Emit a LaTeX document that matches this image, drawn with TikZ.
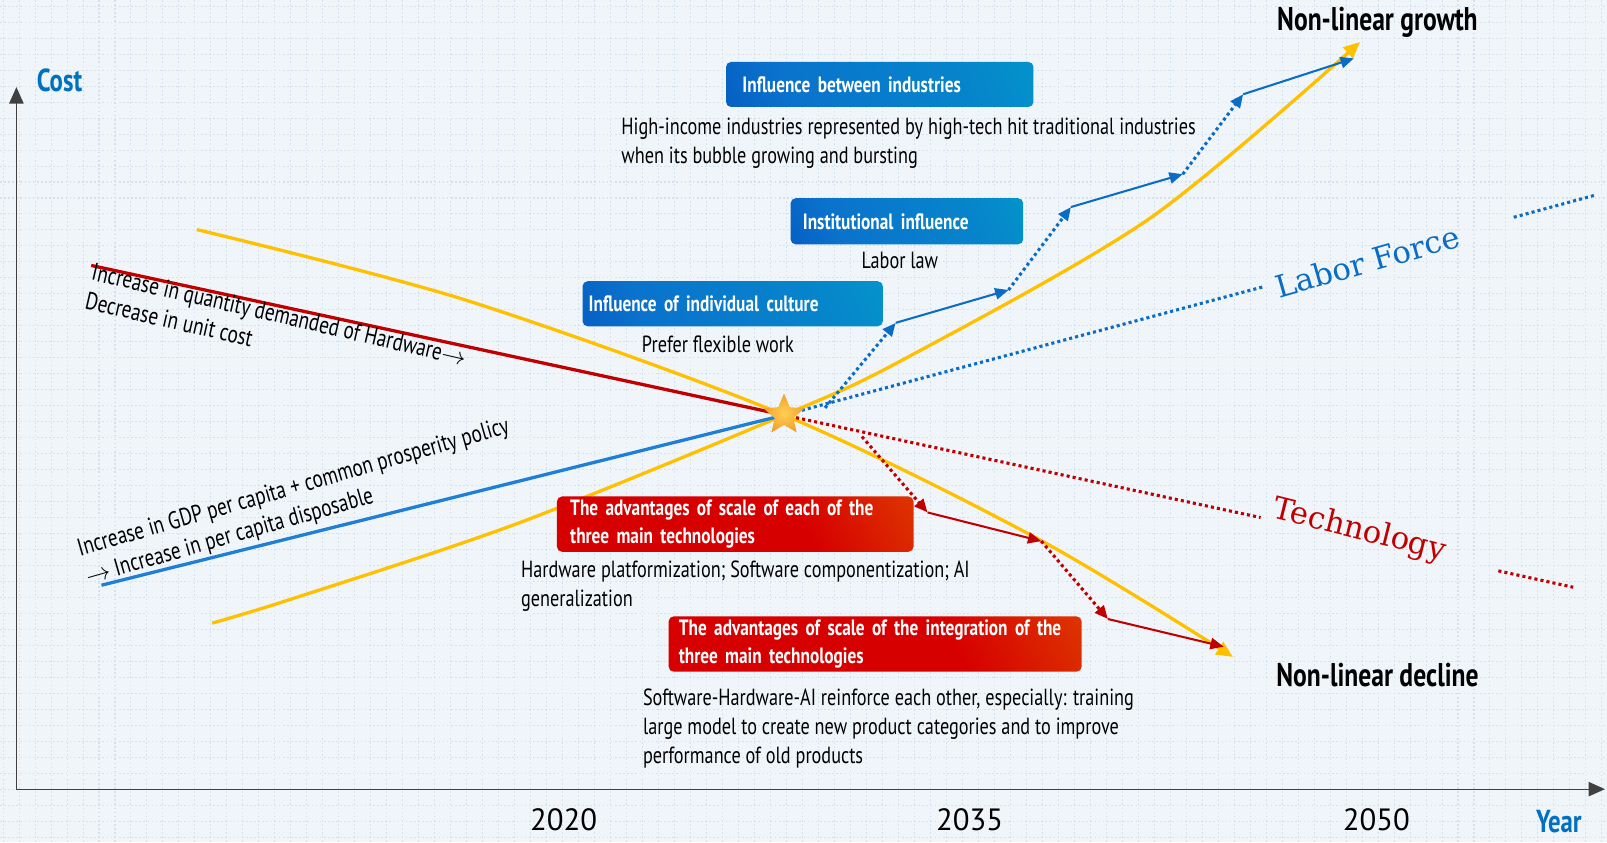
\documentclass[tikz,border=0pt]{standalone}
\usepackage{fontspec}
\setmainfont{PT Sans}[FakeStretch=0.78]
\newfontfamily\yearfont{PT Sans}
\newfontfamily\trendfont{DejaVu Serif}
\usepackage{xcolor}
\usetikzlibrary{arrows.meta,shapes.geometric}

\definecolor{bgpaper}{HTML}{F0F5FA}
\definecolor{gridblue}{HTML}{D6E1EE}
\definecolor{costred}{HTML}{C00000}
\definecolor{incomeblue}{HTML}{1F7FD6}
\definecolor{laborblue}{HTML}{0A6CC4}
\definecolor{curveyellow}{HTML}{FFC000}
\definecolor{axisblue}{HTML}{0070C0}
\definecolor{boxdark}{HTML}{0048B8}
\definecolor{boxmid}{HTML}{0A72CC}
\definecolor{boxteal}{HTML}{00A4CA}
\definecolor{boxred}{HTML}{D60000}
\definecolor{boxorange}{HTML}{E25A00}
\definecolor{starcore}{HTML}{FFCF55}
\definecolor{staredge}{HTML}{F4A028}

\pgfdeclarehorizontalshading{bluefade}{100bp}{color(0bp)=(boxdark); color(30bp)=(boxmid); color(70bp)=(boxmid!60!boxteal); color(100bp)=(boxteal)}
\pgfdeclarehorizontalshading{redfade}{100bp}{color(0bp)=(boxred); color(62bp)=(boxred); color(100bp)=(boxorange)}

\tikzset{
  gridline/.style={draw=gridblue, line width=0.5pt, dash pattern=on 0.8pt off 1.2pt},
  axisline/.style={draw=black!75, line width=0.6pt, -{Triangle[length=8pt,width=7pt]}},
  trendline/.style={line width=1.6pt},
  curve/.style={draw=curveyellow, line width=1.6pt, -{Triangle[length=8pt,width=7pt]}},
  dotline/.style={line width=1.5pt, dash pattern=on 1.5pt off 1.5pt},
  stepsolid/.style={line width=1pt, -{Triangle[length=6.5pt,width=5.5pt]}},
  stepdot/.style={line width=1.5pt, dash pattern=on 1.5pt off 1.5pt, -{Triangle[length=6.5pt,width=5.5pt]}},
  bluebox/.style={anchor=north west, rounded corners=2.5pt, shading=bluefade, shading angle=25,
    text=white, font=\bfseries\fontsize{10.8}{13.5}\selectfont, align=left, inner ysep=1pt},
  redbox/.style={anchor=north west, rounded corners=2.5pt, shading=redfade, shading angle=30,
    text=white, font=\bfseries\fontsize{10.8}{13.5}\selectfont, align=left, inner ysep=0.5pt},
  note/.style={font=\fontsize{11.4}{14}\selectfont, align=left, inner sep=0pt},
  slanted/.style={font=\fontsize{12}{14.4}\selectfont, align=left, inner sep=0pt},
  bigtitle/.style={font=\bfseries\fontsize{16}{18}\selectfont, inner sep=0pt},
  axistitle/.style={text=axisblue, font=\bfseries\fontsize{15.5}{18}\selectfont, inner sep=0pt},
  yearlabel/.style={font=\yearfont\fontsize{15}{16}\selectfont, inner sep=0pt},
  trendlabel/.style={font=\trendfont\fontsize{15}{16}\selectfont, inner sep=0pt},
}

\begin{document}
\begin{tikzpicture}[x=0.5pt, y=-0.5pt]
                \fill[bgpaper] (0,0) rectangle (1568,822);
                \useasboundingbox (0,0) rectangle (1568,822);
                \foreach \gx in {3,18.6,...,1568}
                    \draw[gridline] (\gx,0) -- (\gx,822);
                \foreach \gy in {6,21.6,...,822}
                    \draw[gridline] (0,\gy) -- (1568,\gy);

                % axes
                \coordinate (origin) at (16,770);
                \coordinate (ytip) at (16,85);
                \coordinate (xtip) at (1566,770);
                \draw[axisline] (origin) -- (ytip);
                \draw[axisline] (origin) -- (xtip);
                \node[axistitle] (cost) at (58,78) {Cost};
                \node[axistitle] (year) at (1521,802) {Year};
                \node[yearlabel] (y2020) at (550,800) {2020};
                \node[yearlabel] (y2035) at (946,800) {2035};
                \node[yearlabel] (y2050) at (1343,800) {2050};

                % the two yellow curves
                \draw[curve] plot[smooth] coordinates {(192,224) (455,293) (765,405) (1015,527) (1203,641)};
                \draw[curve] plot[smooth] coordinates {(207,608) (286,584) (507,510) (765,405) (881,351) (1122,213) (1327,41)};

                % lines into the star
                \coordinate (meet) at (765,405);
                \coordinate (hwstart) at (89,259);
                \coordinate (gdpstart) at (99,571);
                \draw[trendline, draw=costred] (hwstart) -- (meet);
                \draw[trendline, draw=incomeblue] (gdpstart) -- (meet);

                \coordinate (lf1) at (1232,280);
                \coordinate (lf2) at (1477,212);
                \coordinate (lf3) at (1558,190);
                \draw[dotline, draw=laborblue] (meet) -- (lf1);
                \draw[dotline, draw=laborblue] (lf2) -- (lf3);
                \node[trendlabel, text=laborblue, rotate=16] (labor) at (1334,255) {Labor Force};

                \coordinate (tc1) at (1230,505);
                \coordinate (tc2) at (1462,557);
                \coordinate (tc3) at (1535,573);
                \draw[dotline, draw=costred] (meet) -- (tc1);
                \draw[dotline, draw=costred] (tc2) -- (tc3);
                \node[trendlabel, text=costred, rotate=-14] (tech) at (1326,518) {Technology};

                % blue steps
                \coordinate (b0) at (805,398);
                \coordinate (b1) at (874,315);
                \coordinate (b2) at (984,283);
                \coordinate (b3) at (1045,202);
                \coordinate (b4) at (1154,170);
                \coordinate (b5) at (1213,92);
                \coordinate (b6) at (1321,57);
                \draw[stepdot, draw=laborblue] (b0) -- (b1);
                \draw[stepsolid, draw=laborblue] (b1) -- (b2);
                \draw[stepdot, draw=laborblue] (b2) -- (b3);
                \draw[stepsolid, draw=laborblue] (b3) -- (b4);
                \draw[stepdot, draw=laborblue] (b4) -- (b5);
                \draw[stepsolid, draw=laborblue] (b5) -- (b6);

                % red steps
                \coordinate (r0) at (841,426);
                \coordinate (r1) at (905,500);
                \coordinate (r2) at (1016,528);
                \coordinate (r3) at (1081,604);
                \coordinate (r4) at (1194,631);
                \draw[stepdot, draw=costred] (r0) -- (r1);
                \draw[stepsolid, draw=costred] (r1) -- (r2);
                \draw[stepdot, draw=costred] (r2) -- (r3);
                \draw[stepsolid, draw=costred] (r3) -- (r4);

                \node[star, star points=5, star point ratio=2.2, minimum size=21pt, inner sep=0pt,
                      inner color=starcore, outer color=staredge] (star) at (meet) {};

                % rotated texts along the two lines
                \node[slanted, rotate=-13, anchor=north west] (hwtext) at (92,256)
                    {Increase in quantity demanded of Hardware$\rightarrow$\\Decrease in unit cost};
                \node[slanted, rotate=16, anchor=north west] (gdptext) at (73,526)
                    {Increase in GDP per capita + common prosperity policy\\$\rightarrow$ Increase in per capita disposable};

                % boxes and notes
                \node[bluebox, minimum width=150pt, minimum height=22pt, inner xsep=8pt, text width=134pt] (industry) at (708,60)
                    {Influence between industries};
                \node[note, anchor=north west] (industrynote) at (606,115)
                    {High-income industries represented by high-tech hit traditional industries\\when its bubble growing and bursting};
                \node[bluebox, minimum width=113.5pt, minimum height=22.5pt, inner xsep=6pt, text width=101.5pt] (institution) at (771,193)
                    {Institutional influence};
                \node[note, anchor=base] (institutionnote) at (878,262) {Labor law};
                \node[bluebox, minimum width=146.5pt, minimum height=22pt, inner xsep=3pt, text width=140.5pt] (culture) at (568,274)
                    {Influence of individual culture};
                \node[note, anchor=base west] (culturenote) at (626,344) {Prefer flexible work};

                \node[redbox, minimum width=174pt, minimum height=27pt, inner xsep=6.5pt, text width=161pt] (eachscale) at (543,484)
                    {The advantages of scale of each of the\\three main technologies};
                \node[note, anchor=north west] (eachnote) at (508,547)
                    {Hardware platformization; Software componentization; AI\\generalization};
                \node[redbox, minimum width=201.5pt, minimum height=27pt, inner xsep=5pt, text width=191.5pt] (jointscale) at (652,601)
                    {The advantages of scale of the integration of the\\three main technologies};
                \node[note, anchor=north west] (jointnote) at (627,672)
                    {Software-Hardware-AI reinforce each other, especially: training\\large model to create new product categories and to improve\\performance of old products};

                \node[bigtitle] (growth) at (1344,22) {Non-linear growth};
                \node[bigtitle] (decline) at (1344,659) {Non-linear decline};
            \end{tikzpicture}
\end{document}
